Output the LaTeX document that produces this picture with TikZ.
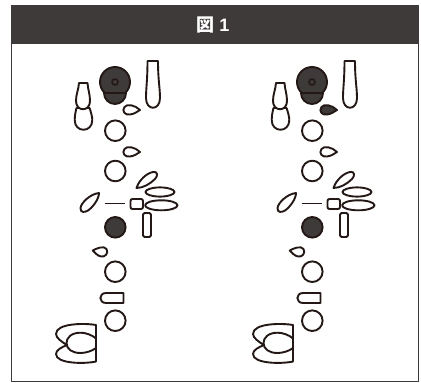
\documentclass[tikz,border=0pt]{standalone}
\usepackage{fontspec}
\setmainfont{Liberation Sans}
\newfontfamily\cjk{Noto Sans CJK JP}
\definecolor{keydark}{HTML}{3E3A39}
\definecolor{keyline}{HTML}{231815}
\begin{document}
\begin{tikzpicture}[
  x=1pt,
  y=-1pt,
  line cap=round,
  line join=round,
  key/.style={draw=keyline,line width=1.9pt,fill=white}
]
  \useasboundingbox (0,0) rectangle (421,383);

  % Рамка и заголовок
  \draw[keydark,line width=1pt]
    (11.5,40) -- (11.5,381.5) -- (418.5,381.5) -- (418.5,40);
  \fill[keydark] (11,5) rectangle (419,44);
  \node[text=white,font=\bfseries\fontsize{18}{18}\selectfont] (title)
    at (213,25.5) {{\cjk\bfseries 図}\hspace{5pt}1};

  % Левая и правая аппликатуры
  \foreach \dx/\tearfill in {0/white,197/keydark} {
    \begin{scope}[xshift=\dx pt]
      % Затылочный клапан
      \draw[key,fill=keydark]
        (115,82) circle[radius=15];
      \draw[key,fill=keydark]
        (104,93) arc[start angle=180,end angle=0,radius=11] -- cycle;
      \draw[keyline,fill=keydark,line width=1.6pt]
        (115,82) circle[radius=3];

      % Длинный клапан справа
      \draw[key]
        (147.5,61) -- (158,61)
        .. controls (158,80) and (160,88) .. (160,98)
        .. controls (160,111) and (146,111) .. (146,98)
        .. controls (146,88) and (147.5,80) .. (147.5,61) -- cycle;

      % Два клапана слева
      \draw[key]
        (76.5,108)
        .. controls (75,114) and (74.7,117) .. (74.7,120)
        .. controls (74.7,133) and (92.3,133) .. (92.3,120)
        .. controls (92.3,117) and (91,112) .. (89.5,108) -- cycle;
      \draw[key]
        (79,83) -- (87.5,83)
        .. controls (88,90) and (90,94) .. (90,101)
        .. controls (90,112) and (76,112) .. (76,101)
        .. controls (76,94) and (78.5,90) .. (79,83) -- cycle;

      % Верхние капли
      \draw[key,fill=\tearfill]
        (140,110)
        .. controls (135,105) and (127,103.5) .. (124.5,107)
        .. controls (121.5,111) and (125,115.5) .. (130,114.5)
        .. controls (134,114) and (137,112) .. (140,110) -- cycle;
      \draw[key]
        (140,152)
        .. controls (135,147) and (127,145.5) .. (124.5,149)
        .. controls (121.5,153) and (125,157.5) .. (130,156.5)
        .. controls (134,156) and (137,154) .. (140,152) -- cycle;

      % Кольца
      \draw[key] (115.3,130.7) circle[radius=10.3];
      \draw[key] (115.3,171) circle[radius=10.3];
      \draw[key] (115.3,271.7) circle[radius=10.3];
      \draw[key] (115.3,320.7) circle[radius=10.3];
      \draw[key,fill=keydark] (115.3,227.3) circle[radius=10.3];

      % Боковые клапаны
      \draw[key]
        (136.5,188)
        .. controls (139,180) and (147,173) .. (153,172)
        .. controls (158,171) and (158,176) .. (155,179)
        .. controls (150,184) and (143,188) .. (136.5,188) -- cycle;
      \draw[key] (160,192) ellipse[x radius=14.5,y radius=4.6];
      \draw[key] (161.3,205.3) ellipse[x radius=16.2,y radius=5];
      \draw[key,rounded corners=2pt] (130.5,199) rectangle (143,209);
      \draw[keyline,line width=1.9pt,line cap=butt] (104.5,203.5) -- (125,203.5);
      \draw[key,rounded corners=1.5pt] (143,213) rectangle (151,237);
      \draw[key]
        (99,193)
        .. controls (90,194) and (81,203) .. (80.5,208)
        .. controls (80,213) and (85,212.5) .. (88,210.5)
        .. controls (93,207) and (99,199) .. (99,193) -- cycle;

      % Нижняя капля
      \draw[key]
        (92.8,250.5)
        .. controls (97,248) and (104,245.5) .. (106.5,249)
        .. controls (109,253) and (105,257.5) .. (101,256.5)
        .. controls (98,256) and (95,253) .. (92.8,250.5) -- cycle;

      % Узкий клапан
      \draw[key]
        (123.5,293) -- (106,293)
        .. controls (98.5,293) and (98.5,303) .. (106,303)
        -- (123.5,303) -- cycle;

      % Мизинцевая группа
      \draw[key]
        (96,325)
        .. controls (85,323) and (56,323) .. (56,334)
        .. controls (56,338) and (62,342) .. (67,345)
        .. controls (62,347) and (56,350) .. (56,354)
        .. controls (56,364) and (85,364) .. (96,361.5) -- cycle;
      \draw[key,fill=none]
        (96,338.5)
        .. controls (92,335) and (86,332.7) .. (80.5,332.7)
        .. controls (71,332.7) and (66.5,338) .. (66.5,343)
        .. controls (66.5,349) and (72,353) .. (80.5,353)
        .. controls (86,353) and (92,351) .. (96,348);
    \end{scope}
  }
\end{tikzpicture}
\end{document}
